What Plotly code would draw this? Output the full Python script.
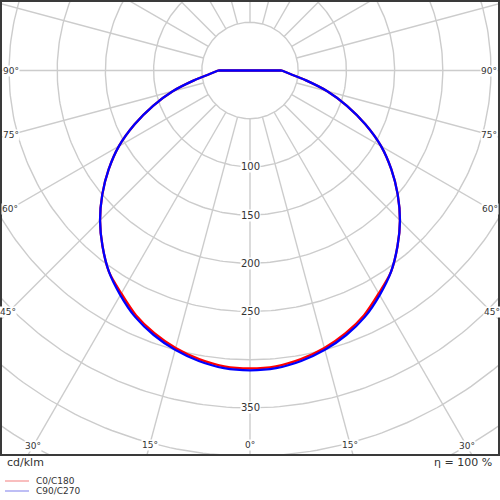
import numpy as np
import plotly.graph_objects as go

# ---- data (cd/klm) ----
gamma_deg = [0, 5, 10, 15, 20, 25, 30, 35, 40, 45, 50, 55, 60, 65, 70, 75, 80, 85, 90]
c0_c180 = [309, 308, 304, 298, 290, 280, 267, 255, 238, 220, 200, 179, 157, 132, 107, 83, 59, 42, 33]
c90_c270 = [311, 310, 306, 300, 292, 282, 269, 255, 238, 220, 200, 179, 157, 132, 107, 83, 59, 42, 33]
series_names = ["C0/C180", "C90/C270"]
series_colors = ["#ff0000", "#0000ff"]
legend_colors = ["#f7a8a8", "#a8a8f2"]
ring_values = [50, 100, 150, 200, 250, 300, 350, 400, 450, 500, 550]
ring_labels = [100, 150, 200, 250, 350]
angle_labels = [0, 15, 30, 45, 60, 75, 90]
spoke_step = 15
efficiency_text = "η = 100 %"
unit_text = "cd/klm"

# ---- geometry of the view ----
PX = 0.964  # px per cd/klm
XR = 249 / PX
YT = 69.5 / PX
YB = -(455 - 70.5) / PX

GRID = "#cccccc"
TXT = "#333333"
FONT = "DejaVu Sans"


def to_xy(theta_deg, r):
    t = np.radians(np.asarray(theta_deg, dtype=float))
    r = np.asarray(r, dtype=float)
    return r * np.sin(t), -r * np.cos(t)


fig = go.Figure()

# rings
rx, ry = [], []
th = np.arange(0, 361, 1)
for rv in ring_values:
    x, y = to_xy(th, np.full(th.shape, rv))
    rx += list(x) + [None]
    ry += list(y) + [None]
fig.add_trace(go.Scatter(x=rx, y=ry, mode="lines", line=dict(color=GRID, width=1.4),
                         hoverinfo="skip", showlegend=False))

# spokes
sx, sy = [], []
for a in range(0, 360, spoke_step):
    x, y = to_xy([a, a], [ring_values[0], 700])
    sx += list(x) + [None]
    sy += list(y) + [None]
fig.add_trace(go.Scatter(x=sx, y=sy, mode="lines", line=dict(color=GRID, width=1.4),
                         hoverinfo="skip", showlegend=False))

# curves (symmetric planes): smooth lower part + straight chord across the top
for vals, name, col in zip([c0_c180, c90_c270], series_names, series_colors):
    ang = [-g for g in gamma_deg[::-1]] + gamma_deg[1:]
    rr = vals[::-1] + vals[1:]
    x, y = to_xy(ang, rr)
    xs = list(x) + [None, x[-1], x[0]]
    ys = list(y) + [None, y[-1], y[0]]
    fig.add_trace(go.Scatter(x=xs, y=ys, mode="lines", name=name, connectgaps=False,
                             line=dict(color=col, width=2.3, shape="spline", smoothing=0.8),
                             showlegend=False, hoverinfo="skip"))

annotations = []
# radial labels
for rv in ring_labels:
    annotations.append(dict(x=0, y=-rv, xref="x", yref="y", text=str(rv), showarrow=False,
                            font=dict(family=FONT, size=10, color=TXT), bgcolor="white",
                            borderpad=0, xanchor="center", yanchor="middle"))

# angle labels at frame edge
inset = 10 / PX
for a in angle_labels:
    for sgn in ([1] if a == 0 else [-1, 1]):
        t = np.radians(a)
        s, c = np.sin(t), np.cos(t)
        cand = []
        if s > 1e-9:
            cand.append(XR / s)
        if c > 1e-9:
            cand.append(-YB / c)
        tt = min(cand) - inset
        annotations.append(dict(x=sgn * tt * s, y=-tt * c, xref="x", yref="y",
                                text=f"{a}°", showarrow=False,
                                font=dict(family=FONT, size=9, color=TXT), bgcolor="white",
                                borderpad=0, xanchor="center", yanchor="middle"))


def px_to_paper(X, Y):
    return (X - 1) / 498, (455 - Y) / 454


ux, uy = px_to_paper(5, 463)
annotations.append(dict(x=ux, y=uy, xref="paper", yref="paper", text=unit_text, showarrow=False,
                        font=dict(family=FONT, size=11, color=TXT), xanchor="left", yanchor="middle"))
ex, ey = px_to_paper(494, 463)
annotations.append(dict(x=ex, y=ey, xref="paper", yref="paper", text=efficiency_text, showarrow=False,
                        font=dict(family=FONT, size=11, color=TXT), xanchor="right", yanchor="middle"))

shapes = [dict(type="rect", xref="paper", yref="paper", x0=0, x1=1, y0=0, y1=1,
               line=dict(color="#3a3a3a", width=2), layer="above")]
for i, (name, lc) in enumerate(zip(series_names, legend_colors)):
    Y = 481 + 10 * i
    x0, y0 = px_to_paper(5, Y)
    x1, _ = px_to_paper(29, Y)
    shapes.append(dict(type="line", xref="paper", yref="paper", x0=x0, x1=x1, y0=y0, y1=y0,
                       line=dict(color=lc, width=1.5)))
    tx, _ = px_to_paper(35, Y)
    annotations.append(dict(x=tx, y=y0, xref="paper", yref="paper", text=name, showarrow=False,
                            font=dict(family=FONT, size=9, color=TXT), xanchor="left",
                            yanchor="middle", borderpad=0))

fig.update_layout(
    width=500, height=500,
    margin=dict(l=1, r=1, t=1, b=45, pad=0),
    paper_bgcolor="white", plot_bgcolor="white",
    xaxis=dict(range=[-XR, XR], visible=False, fixedrange=True),
    yaxis=dict(range=[YB, YT], visible=False, fixedrange=True),
    annotations=annotations, shapes=shapes,
    showlegend=False,
)

fig.write_html("out.html", config={"displayModeBar": False},
               post_script="document.body.style.margin='0';")
